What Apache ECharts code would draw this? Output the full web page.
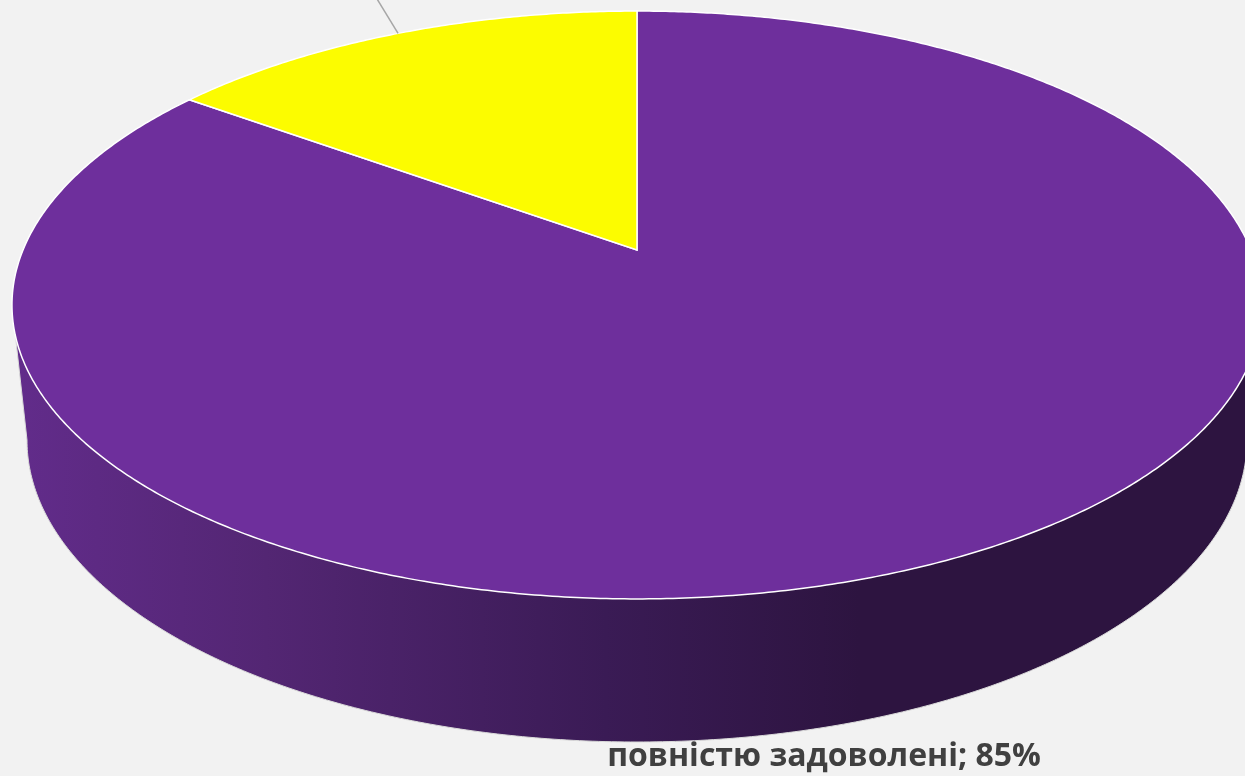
<!DOCTYPE html>
<html>
<head>
<meta charset="utf-8">
<style>html,body{margin:0;padding:0;background:#f2f2f2;overflow:hidden}#c{width:1245px;height:776px}</style>
<script src="https://cdn.jsdelivr.net/npm/echarts@6/dist/echarts.min.js"></script>
</head>
<body>
<div id="c"></div>
<script>
const categories = ['повністю задоволені', 'інші'];
const values = [85, 15];
const sliceColors = ['#6e2f9c', '#fcfc00'];
const labelTexts = ['повністю задоволені; 85%'];

const total = values.reduce((a, b) => a + b, 0);
// perspective projection of the pie disc
const CX = 637, AY = 250, D = 614, A = 236.9, K = -0.187;
function proj(theta) {
  const u = Math.sin(theta), v = -Math.cos(theta), w = 1 + K * v;
  return [CX + D * u / w, (AY + A * v) / w];
}
function slicePoints(a0, a1) {
  const pts = [[CX, AY]];
  const n = Math.max(8, Math.ceil((a1 - a0) / 0.008));
  for (let i = 0; i <= n; i++) pts.push(proj(a0 + (a1 - a0) * i / n));
  return pts;
}
function wallPoints() {
  const pts = [];
  pts.push([1262, 305]);
  for (let i = 0; i <= 300; i++) {
    const t = Math.PI * i / 300;
    pts.push([637 + 610 * Math.cos(t), 440 + 302 * Math.sin(t)]);
  }
  pts.push([12, 305]);
  return pts;
}
const wallFill = new echarts.graphic.LinearGradient(12, 0, 860, 0, [
  { offset: 0, color: '#622c8b' },
  { offset: 0.3, color: '#532673' },
  { offset: 0.7, color: '#3a1b55' },
  { offset: 1, color: '#2d1440' }
], true);

function renderItem(params, api) {
  const i = params.dataIndex;
  let before = 0;
  for (let k = 0; k < i; k++) before += values[k];
  const a0 = before / total * 2 * Math.PI;
  const a1 = (before + api.value(0)) / total * 2 * Math.PI;
  const children = [];
  if (i === 0) {
    children.push({ type: 'polygon', shape: { points: wallPoints() },
      style: { fill: wallFill, stroke: '#d9d9d9', lineWidth: 1 } });
    children.push({ type: 'text', style: {
      text: labelTexts[0], x: 824, y: 757, align: 'center', verticalAlign: 'middle',
      font: 'bold 32px "Open Sans", sans-serif', fill: '#404040' } });
  }
  children.push({ type: 'polygon', shape: { points: slicePoints(a0, a1) },
    style: { fill: sliceColors[i], stroke: '#ffffff', lineWidth: 1.5 } });
  if (i === 1) {
    const m = proj((a0 + a1) / 2);
    children.push({ type: 'line', shape: { x1: m[0], y1: m[1], x2: m[0] - 22, y2: m[1] - 36 },
      style: { stroke: '#a6a6a6', lineWidth: 1.5 } });
  }
  return { type: 'group', children };
}

const chart = echarts.init(document.getElementById('c'), null, { renderer: 'canvas' });
chart.setOption({
  backgroundColor: '#f2f2f2',
  animation: false,
  tooltip: { show: false },
  series: [{
    type: 'custom',
    coordinateSystem: 'none',
    silent: true,
    renderItem,
    data: categories.map((c, i) => ({ name: c, value: [values[i]] }))
  }]
});
</script>
</body>
</html>
